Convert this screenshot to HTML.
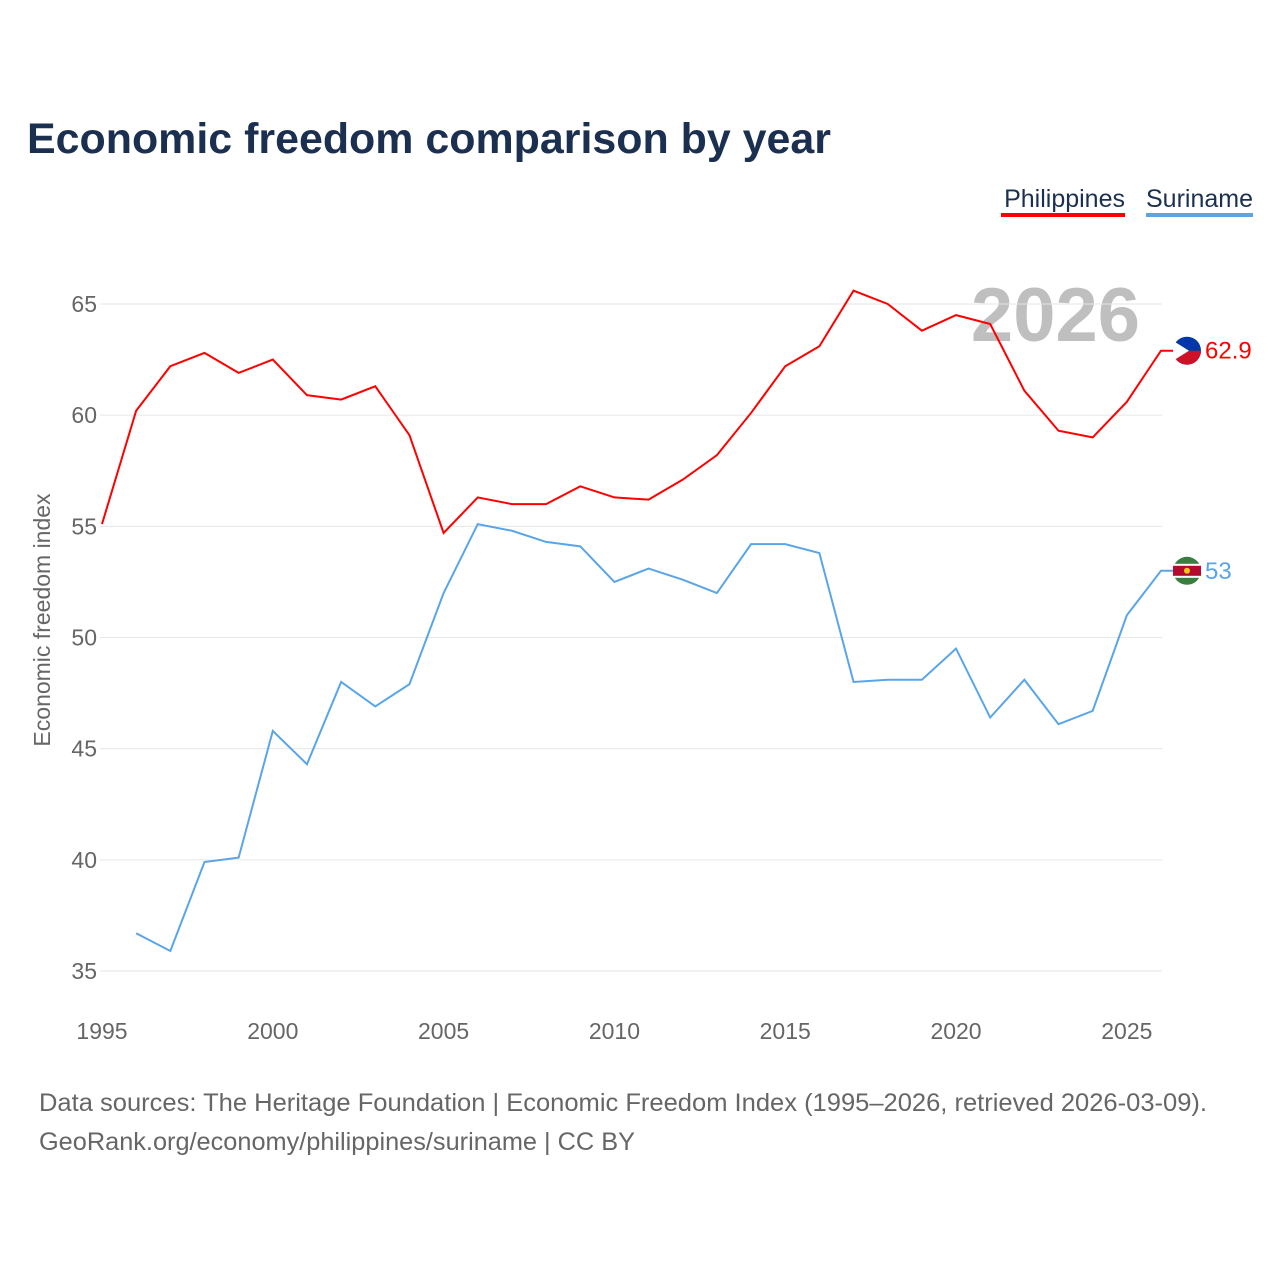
<!DOCTYPE html>
<html><head><meta charset="utf-8"><style>
body{margin:0;background:#fff;font-family:"Liberation Sans",sans-serif;}
svg text{font-family:"Liberation Sans",sans-serif;}
</style></head><body>
<svg id="chart" width="1280" height="1280" xmlns="http://www.w3.org/2000/svg">
<text x="27" y="153" font-size="43" font-weight="bold" fill="#1b3050" textLength="804" lengthAdjust="spacingAndGlyphs">Economic freedom comparison by year</text>
<g>
<text x="1125" y="207" font-size="25" fill="#1b3050" text-anchor="end">Philippines</text>
<rect x="1001" y="213" width="124" height="4" fill="#ff0000"/>
<text x="1253" y="207" font-size="25" fill="#1b3050" text-anchor="end">Suriname</text>
<rect x="1146" y="213" width="107" height="4" fill="#5aa5e8"/>
</g>
<text x="1140" y="341" font-size="76" font-weight="bold" fill="#bfbfbf" text-anchor="end">2026</text>
<text transform="translate(50,620) rotate(-90)" font-size="23" fill="#666" text-anchor="middle">Economic freedom index</text>
<g id="grid"></g><g id="xt"></g><g id="lines"></g>
<text x="39" y="1111" font-size="25" fill="#666" textLength="1168" lengthAdjust="spacingAndGlyphs">Data sources: The Heritage Foundation | Economic Freedom Index (1995–2026, retrieved 2026-03-09).</text>
<text x="39" y="1150" font-size="25" fill="#666" textLength="596" lengthAdjust="spacingAndGlyphs">GeoRank.org/economy/philippines/suriname | CC BY</text>
</svg>
<script>
const yTicks=[35,40,45,50,55,60,65];
const xTicks=[1995,2000,2005,2010,2015,2020,2025];
const phYears=[1995,1996,1997,1998,1999,2000,2001,2002,2003,2004,2005,2006,2007,2008,2009,2010,2011,2012,2013,2014,2015,2016,2017,2018,2019,2020,2021,2022,2023,2024,2025,2026];
const phValues=[55.1,60.2,62.2,62.8,61.9,62.5,60.9,60.7,61.3,59.1,54.7,56.3,56.0,56.0,56.8,56.3,56.2,57.1,58.2,60.1,62.2,63.1,65.6,65.0,63.8,64.5,64.1,61.1,59.3,59.0,60.6,62.9];
const srYears=[1996,1997,1998,1999,2000,2001,2002,2003,2004,2005,2006,2007,2008,2009,2010,2011,2012,2013,2014,2015,2016,2017,2018,2019,2020,2021,2022,2023,2024,2025,2026];
const srValues=[36.7,35.9,39.9,40.1,45.8,44.3,48.0,46.9,47.9,52.0,55.1,54.8,54.3,54.1,52.5,53.1,52.6,52.0,54.2,54.2,53.8,48.0,48.1,48.1,49.5,46.4,48.1,46.1,46.7,51.0,53.0];
const X=y=>102+(y-1995)*(1059/31);
const Y=v=>971-(v-35)*(667/30);
const NS="http://www.w3.org/2000/svg";
function mk(t,a,p){const e=document.createElementNS(NS,t);for(const k in a)e.setAttribute(k,a[k]);p.appendChild(e);return e;}
const g=document.getElementById('grid'),xt=document.getElementById('xt'),L=document.getElementById('lines');
yTicks.forEach(v=>{
 const l=mk('line',{x1:100,x2:1162,y1:Y(v),y2:Y(v),stroke:'#e6e6e6','stroke-width':1},g);
 
 
 const t=mk('text',{x:97,y:Y(v)+8,'font-size':23,fill:'#666','text-anchor':'end'},g);t.textContent=v;
 
 
});
xTicks.forEach(v=>{
 const t=mk('text',{x:X(v),y:1039,'font-size':23,fill:'#666','text-anchor':'middle'},xt);t.textContent=v;
 
 
});
function series(ys,vs,col,name){
 const lx=X(ys[ys.length-1]),ly=Y(vs[vs.length-1]);
 const p=mk('path',{d:ys.map((y,i)=>(i?'L':'M')+X(y)+','+Y(vs[i])).join('')+'L'+(lx+14)+','+ly,fill:'none',stroke:col,'stroke-width':2},L);
 
 
 const c=mk('circle',{cx:lx+26,cy:ly,r:14,fill:name==='philippines'?'#0038a8':'#377e3f'},L);
 
 
 if(name==='philippines'){const h=mk('path',{d:`M${lx+12},${ly}A14,14 0 0,0 ${lx+40},${ly}Z`,fill:'#ce1126'},L);
 const tr=mk('path',{d:`M${lx+12},${ly-10}L${lx+28},${ly}L${lx+12},${ly+10}Z`,fill:'#fff'},L);}
 else{const b=mk('rect',{x:lx+12,y:ly-7,width:28,height:14,fill:'#fff'},L);
 const r=mk('rect',{x:lx+12,y:ly-5,width:28,height:10,fill:'#b40a2d'},L);
 const s=mk('circle',{cx:lx+26,cy:ly,r:3,fill:'#ecc81d'},L);}
 const t=mk('text',{x:lx+44,y:ly+8,'font-size':24,fill:col},L);t.textContent=vs[vs.length-1];
 
 
}
series(phYears,phValues,'#ff0000','philippines');
series(srYears,srValues,'#5aa5e8','suriname');
</script>
</body></html>
